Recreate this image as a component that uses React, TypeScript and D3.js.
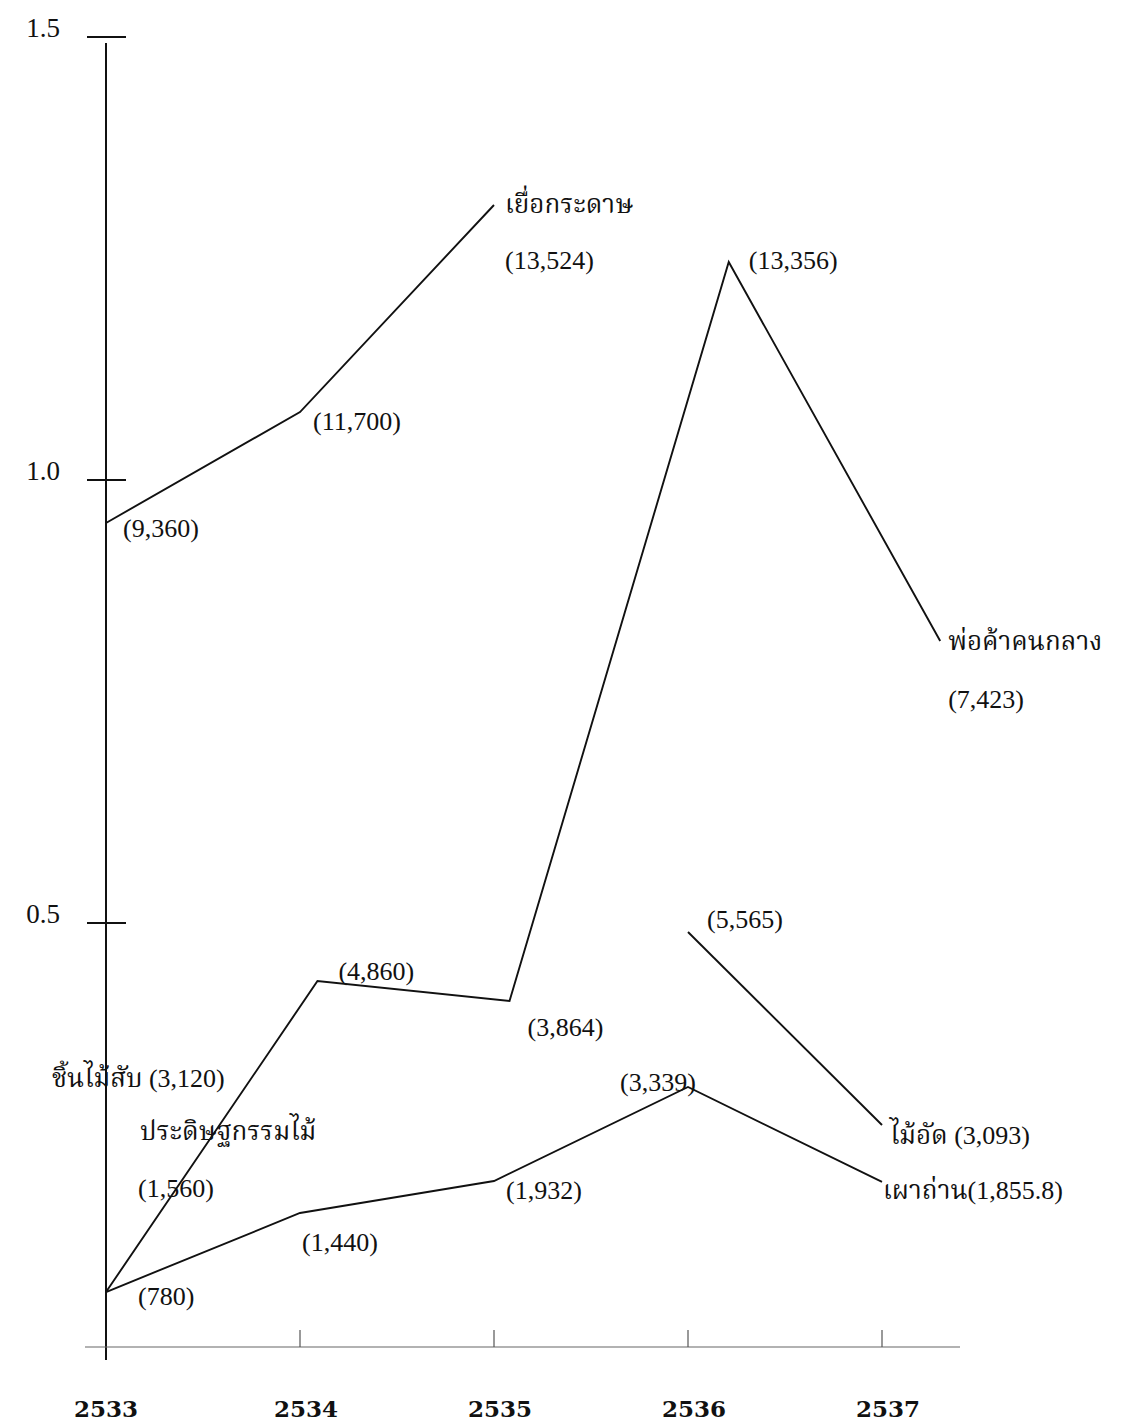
import React from 'react';
import * as d3 from 'd3';

// years on the x axis (Thai Buddhist era)
const years = [2533, 2534, 2535, 2536, 2537];
const yTicks = [0.5, 1.0, 1.5];

// values; x positions follow the hand-drawn vertices
const pulpYears = [2533, 2534, 2535];
const pulpValues = [0.9515, 1.0767, 1.3104];

const middlemanYears = [2533, 2534.09, 2535.08, 2536.21, 2537.3];
const middlemanValues = [0.0835, 0.4345, 0.412, 1.246, 0.8183];

const charcoalYears = [2533, 2534, 2535, 2536, 2537];
const charcoalValues = [0.0835, 0.1727, 0.2088, 0.3149, 0.2077];

const plywoodYears = [2536, 2537];
const plywoodValues = [0.4898, 0.272];

const series = [
  { key: 'pulp', xs: pulpYears, ys: pulpValues },
  { key: 'middleman', xs: middlemanYears, ys: middlemanValues },
  { key: 'charcoal', xs: charcoalYears, ys: charcoalValues },
  { key: 'plywood', xs: plywoodYears, ys: plywoodValues },
];

// label texts, attached to a vertex of a series; dx/dy are pixel nudges
const labels = [
  { text: '(9,360)', s: 'pulp', i: 0, dx: 17, dy: 14 },
  { text: '(11,700)', s: 'pulp', i: 1, dx: 13, dy: 18 },
  { text: 'เยื่อกระดาษ', s: 'pulp', i: 2, dx: 11, dy: 8 },
  { text: '(13,524)', s: 'pulp', i: 2, dx: 11, dy: 64 },
  { text: 'ชิ้นไม้สับ (3,120)', s: 'middleman', i: 0, dx: -54, dy: -205 },
  { text: 'ประดิษฐกรรมไม้', s: 'middleman', i: 0, dx: 34, dy: -152 },
  { text: '(1,560)', s: 'middleman', i: 0, dx: 32, dy: -95 },
  { text: '(4,860)', s: 'middleman', i: 1, dx: 21, dy: -1 },
  { text: '(3,864)', s: 'middleman', i: 2, dx: 18, dy: 35 },
  { text: '(13,356)', s: 'middleman', i: 3, dx: 20, dy: 7 },
  { text: 'พ่อค้าคนกลาง', s: 'middleman', i: 4, dx: 8, dy: 9 },
  { text: '(7,423)', s: 'middleman', i: 4, dx: 8, dy: 67 },
  { text: '(780)', s: 'charcoal', i: 0, dx: 32, dy: 13 },
  { text: '(1,440)', s: 'charcoal', i: 1, dx: 2, dy: 38 },
  { text: '(1,932)', s: 'charcoal', i: 2, dx: 12, dy: 18 },
  { text: '(3,339)', s: 'charcoal', i: 3, dx: -68, dy: 4 },
  { text: 'เผาถ่าน(1,855.8)', s: 'charcoal', i: 4, dx: 1, dy: 17 },
  { text: '(5,565)', s: 'plywood', i: 0, dx: 19, dy: -4 },
  { text: 'ไม้อัด (3,093)', s: 'plywood', i: 1, dx: 8, dy: 19 },
];

const W = 1123;
const H = 1424;
const axisY = 1347;
const font =
  '"Liberation Serif", "Times New Roman", "Noto Serif Thai", "Noto Sans Thai", Loma, Garuda, serif';

const x = d3.scaleLinear().domain([2533, 2537]).range([106, 882]);
const y = d3.scaleLinear().domain([0, 1.5]).range([1366, 37]);

const pathFor = (xs: number[], ys: number[]) =>
  d3
    .line<number>()
    .x((_, i) => x(xs[i]))
    .y((v) => y(v))(ys) || '';

const App = () => {
  const byKey: Record<string, { xs: number[]; ys: number[] }> = {};
  series.forEach((s) => (byKey[s.key] = s));

  const x0 = x(2533);

  return (
    <svg
      width={W}
      height={H}
      style={{ position: 'absolute', left: 0, top: 0, background: '#fff' }}
      fontFamily={font}
    >
      <rect width={W} height={H} fill="#fff" />

      {/* y axis */}
      <line x1={x0} x2={x0} y1={y(1.5) + 6} y2={1360} stroke="#111" strokeWidth={2} />
      {yTicks.map((t) => (
        <g key={t}>
          <line x1={x0 - 19} x2={x0 + 20} y1={y(t)} y2={y(t)} stroke="#111" strokeWidth={1.8} />
          <text x={x0 - 46} y={y(t)} textAnchor="end" fontSize={27} fill="#111">
            {t.toFixed(1)}
          </text>
        </g>
      ))}

      {/* x axis */}
      <line x1={85} x2={960} y1={axisY} y2={axisY} stroke="#666" strokeWidth={1.2} />
      {years.slice(1).map((yr) => (
        <line key={yr} x1={x(yr)} x2={x(yr)} y1={axisY - 17} y2={axisY} stroke="#555" strokeWidth={1.2} />
      ))}
      {years.map((yr, i) => (
        <text
          key={yr}
          x={x(yr) + (i === 0 ? 0 : 6)}
          y={1417}
          textAnchor="middle"
          fontSize={23}
          fontWeight="bold"
          fontFamily='"DejaVu Serif", serif'
          fill="#111"
        >
          {yr}
        </text>
      ))}

      {/* series */}
      {series.map((s) => (
        <path key={s.key} d={pathFor(s.xs, s.ys)} fill="none" stroke="#111" strokeWidth={1.9} />
      ))}

      {/* labels */}
      {labels.map((l, k) => {
        const s = byKey[l.s];
        return (
          <text
            key={k}
            x={x(s.xs[l.i]) + l.dx}
            y={y(s.ys[l.i]) + l.dy}
            fontSize={26}
            fill="#111"
          >
            {l.text}
          </text>
        );
      })}
    </svg>
  );
};

export default App;
